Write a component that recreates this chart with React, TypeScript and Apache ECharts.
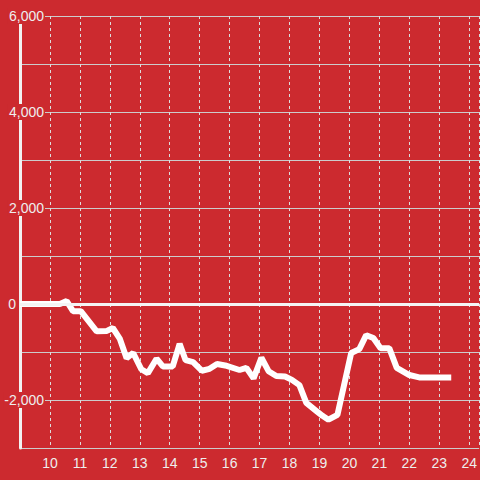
import React, { useEffect, useRef } from "react";
import * as echarts from "echarts";

const times: number[] = [
  9.0, 10.33, 10.56, 10.77, 11.03, 11.56, 11.9, 12.1, 12.33, 12.56, 12.78, 13.05,
  13.27, 13.56, 13.77, 14.1, 14.33, 14.53, 14.78, 15.07, 15.33, 15.58, 15.85,
  16.33, 16.56, 16.8, 17.06, 17.3, 17.56, 17.85, 18.08, 18.33, 18.56, 18.9, 19.1,
  19.3, 19.6, 20.06, 20.33, 20.56, 20.8, 21.04, 21.33, 21.58, 22.0, 22.33, 23.4,
];
const values: number[] = [
  0, 0, 60, -150, -150, -570, -560, -500, -720, -1130, -1020, -1360,
  -1440, -1140, -1300, -1300, -830, -1170, -1210, -1390, -1350, -1250, -1280,
  -1375, -1330, -1550, -1120, -1400, -1500, -1510, -1580, -1690, -2060, -2230, -2330,
  -2410, -2310, -1020, -940, -650, -710, -920, -920, -1330, -1480, -1530, -1530,
];

const BG = "#cc2a2f";
const TEXT = "#eeeeee";
const FONT = "Liberation Sans, Arial, sans-serif";

export default function App() {
  const ref = useRef<HTMLDivElement>(null);
  useEffect(() => {
    if (!ref.current) return;
    const chart = echarts.init(ref.current, undefined, { renderer: "svg" });
    chart.setOption({
      animation: false,
      backgroundColor: BG,
      grid: { left: 20, right: 0, top: 16, bottom: 32 },
      xAxis: {
        type: "value",
        min: 9,
        max: 24.333,
        interval: 1,
        axisLine: { show: false },
        axisTick: { show: false },
        axisLabel: {
          color: TEXT,
          fontSize: 14,
          fontFamily: FONT,
          margin: 8,
          showMinLabel: false,
          showMaxLabel: false,
        },
        splitLine: { show: true, lineStyle: { color: "#dddddd", type: [3, 3], width: 1 } },
      },
      yAxis: {
        type: "value",
        min: -3000,
        max: 6000,
        interval: 1000,
        axisLine: { show: true, lineStyle: { color: "#f2f2f2", width: 3 } },
        axisTick: { show: false },
        axisLabel: {
          margin: -25,
          formatter: (v: number) => {
            if (v === 0) return "{z|0}";
            return v % 2000 === 0 ? "{a|" + v.toLocaleString("en-US") + "}" : "";
          },
          rich: {
            a: {
              color: TEXT,
              fontSize: 14,
              fontFamily: FONT,
              backgroundColor: BG,
              padding: [1, 1, 1, 1],
              lineHeight: 14,
            },
            z: {
              color: TEXT,
              fontSize: 14,
              fontFamily: FONT,
              padding: [1, 29, 1, 1],
              lineHeight: 14,
            },
          },
        },
        splitLine: { show: true, lineStyle: { color: "#cccccc", width: 1 } },
      },
      series: [
        {
          type: "line",
          data: times.map((t, i) => [t, values[i]]),
          showSymbol: false,
          symbol: "none",
          lineStyle: { color: "#ffffff", width: 6 },
          markLine: {
            silent: true,
            symbol: "none",
            label: { show: false },
            lineStyle: { color: "#f4f4f4", width: 3, type: "solid" },
            data: [{ yAxis: 0 }],
          },
        },
      ],
    });
    return () => chart.dispose();
  }, []);
  return (
    <div
      ref={ref}
      style={{ position: "absolute", left: 0, top: 0, width: 480, height: 480 }}
    />
  );
}
